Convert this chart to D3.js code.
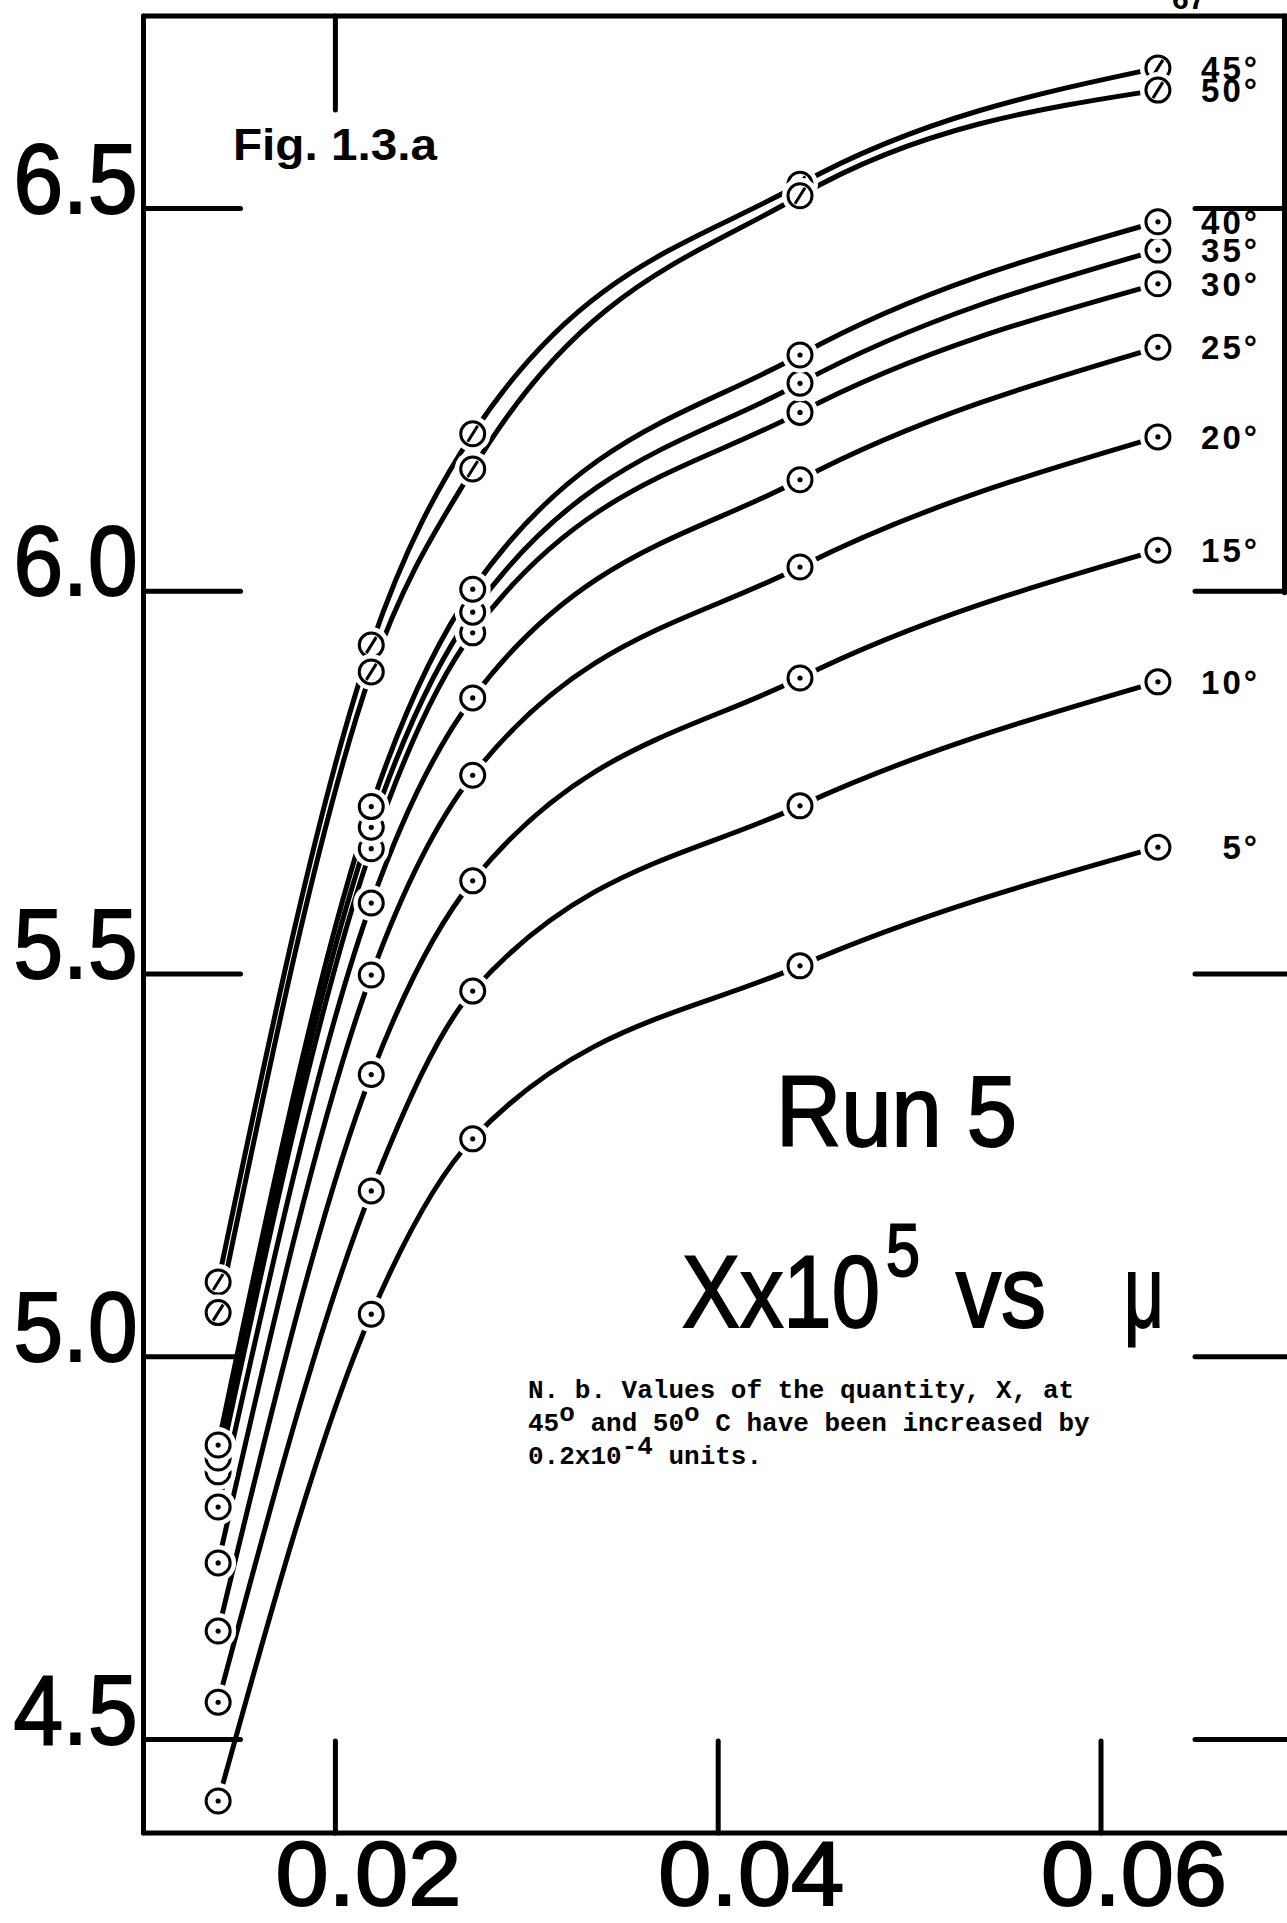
<!DOCTYPE html>
<html>
<head>
<meta charset="utf-8">
<script src="https://cdn.jsdelivr.net/npm/d3@7"></script>
<style>
html, body { margin: 0; padding: 0; background: #fff; }
svg { display: block; }
.letter { font-family: "Liberation Sans", Arial, sans-serif; fill: #000; }
.note { font-family: "Liberation Mono", "DejaVu Sans Mono", monospace; font-weight: bold; font-size: 26px; fill: #000; }
</style>
</head>
<body>
<div id="chart"></div>
<script>
// ionic strength (x axis)
const MU = [0.0139, 0.0219, 0.0272, 0.0443, 0.0630];

// X x 10^5 at each temperature
const T5  = [4.419, 5.055, 5.284, 5.510, 5.665];
const T10 = [4.548, 5.216, 5.477, 5.719, 5.881];
const T15 = [4.641, 5.368, 5.621, 5.886, 6.053];
const T20 = [4.730, 5.498, 5.759, 6.031, 6.201];
const T25 = [4.803, 5.592, 5.860, 6.145, 6.318];
const T30 = [4.849, 5.663, 5.945, 6.233, 6.401];
const T35 = [4.867, 5.691, 5.972, 6.271, 6.445];
const T40 = [4.884, 5.718, 6.002, 6.308, 6.482];
const T45 = [5.097, 5.929, 6.205, 6.531, 6.683];
const T50 = [5.057, 5.894, 6.159, 6.516, 6.654];

const TEMPS = ["5°", "10°", "15°", "20°", "25°", "30°", "35°", "40°", "45°", "50°"];
const VALUES = [T5, T10, T15, T20, T25, T30, T35, T40, T45, T50];
// 45 and 50 deg values were shifted (see note), drawn with slashed circles
const SHIFTED = ["45°", "50°"];

const X_TICKS = [0.02, 0.04, 0.06];
const X_TICK_LABELS = ["0.02", "0.04", "0.06"];
const Y_TICKS = [4.5, 5.0, 5.5, 6.0, 6.5];
const Y_TICK_LABELS = ["4.5", "5.0", "5.5", "6.0", "6.5"];

const width = 1287;
const height = 1923;
const frame = {top: 16, bottom: 1833, left: 143.5, right: 1284.5};

const svg = d3.select("#chart")
    .append("svg")
    .attr("width", width)
    .attr("height", height);

const xScale = d3.scaleLinear()
    .domain([0.01, 0.07])
    .range([frame.left, frame.left + 6 * 191.4]);

const yScale = d3.scaleLinear()
    .domain([4.5, 6.5])
    .range([1739, 208]);

// frame lines
const frameGroup = svg.append("g")
    .attr("stroke", "#000")
    .attr("stroke-width", 5)
    .attr("stroke-linecap", "round");
frameGroup.append("line")
    .attr("x1", frame.left).attr("y1", frame.top)
    .attr("x2", frame.left).attr("y2", frame.bottom);
frameGroup.append("line")
    .attr("x1", frame.left).attr("y1", frame.top)
    .attr("x2", width).attr("y2", frame.top);
frameGroup.append("line")
    .attr("x1", frame.left).attr("y1", frame.bottom)
    .attr("x2", width).attr("y2", frame.bottom);
frameGroup.append("line")
    .attr("x1", frame.right).attr("y1", frame.top)
    .attr("x2", frame.right).attr("y2", yScale(6.0) + 2);

function styleAxis(g) {
    g.select(".domain").remove();
    g.selectAll(".tick line")
        .attr("stroke", "#000")
        .attr("stroke-width", 5)
        .attr("stroke-linecap", "round");
}

// left axis: inward ticks, big labels
const yAxis = svg.append("g")
    .attr("transform", `translate(${frame.left}, 0)`)
    .call(d3.axisLeft(yScale)
        .tickValues(Y_TICKS)
        .tickSize(-97)
        .tickPadding(6)
        .tickFormat((d, i) => Y_TICK_LABELS[i]))
    .call(styleAxis);

yAxis.selectAll(".tick text")
    .attr("class", "letter")
    .attr("font-size", 98)
    .attr("stroke", "#000")
    .attr("stroke-width", 2)
    .attr("dy", 4)
    .attr("textLength", 124)
    .attr("lengthAdjust", "spacingAndGlyphs");

// right side ticks
svg.append("g")
    .attr("transform", `translate(${width}, 0)`)
    .call(d3.axisLeft(yScale)
        .tickValues(Y_TICKS)
        .tickSize(92)
        .tickFormat(""))
    .call(styleAxis);

// bottom axis: inward ticks, labels under the line
const xAxis = svg.append("g")
    .attr("transform", `translate(0, ${frame.bottom})`)
    .call(d3.axisBottom(xScale)
        .tickValues(X_TICKS)
        .tickSize(-92)
        .tickFormat((d, i) => X_TICK_LABELS[i]))
    .call(styleAxis);

xAxis.selectAll(".tick text")
    .attr("class", "letter")
    .attr("font-size", 90)
    .attr("stroke", "#000")
    .attr("stroke-width", 2)
    .attr("text-anchor", "start")
    .attr("x", -60)
    .attr("y", 72)
    .attr("dy", null)
    .attr("textLength", 186)
    .attr("lengthAdjust", "spacingAndGlyphs");

// top tick
svg.append("g")
    .attr("transform", `translate(0, ${frame.top})`)
    .call(d3.axisBottom(xScale)
        .tickValues([X_TICKS[0]])
        .tickSize(94)
        .tickFormat(""))
    .call(styleAxis);

// curves
const lineGenerator = d3.line()
    .x((d, i) => xScale(MU[i]))
    .y(d => yScale(d))
    .curve(d3.curveMonotoneX);

const lineGroup = svg.append("g")
    .attr("class", "line-group");

lineGroup.selectAll("path")
    .data(VALUES)
  .enter().append("path")
    .attr("d", lineGenerator)
    .attr("fill", "none")
    .attr("stroke", "#000")
    .attr("stroke-width", 5)
    .attr("stroke-linecap", "round");

// point markers
const points = [];
VALUES.forEach((vals, s) => {
    vals.forEach((v, i) => points.push({temp: TEMPS[s], mu: MU[i], value: v}));
});

const dotGroup = svg.append("g")
    .attr("class", "dot-group");

const marker = dotGroup.selectAll("g")
    .data(points)
  .enter().append("g")
    .attr("transform", d => `translate(${xScale(d.mu)}, ${yScale(d.value)})`);

marker.append("circle")
    .attr("r", 18)
    .attr("fill", "#fff");

marker.append("circle")
    .attr("r", 12)
    .attr("fill", "#fff")
    .attr("stroke", "#000")
    .attr("stroke-width", 3);

marker.filter(d => !SHIFTED.includes(d.temp))
    .append("circle")
    .attr("r", 2.6)
    .attr("fill", "#000");

marker.filter(d => SHIFTED.includes(d.temp))
    .append("line")
    .attr("x1", -5).attr("y1", 8)
    .attr("x2", 5).attr("y2", -8)
    .attr("stroke", "#000")
    .attr("stroke-width", 3);

// temperature labels at the right end of each curve
svg.append("g")
    .selectAll("text")
    .data(VALUES)
  .enter().append("text")
    .attr("class", "letter")
    .attr("font-size", 33)
    .attr("font-weight", "bold")
    .attr("letter-spacing", 3)
    .attr("text-anchor", "end")
    .attr("x", 1260)
    .attr("y", d => yScale(d[d.length - 1]) + 12)
    .text((d, i) => TEMPS[i]);

// figure title
svg.append("text")
    .attr("class", "letter")
    .attr("font-size", 44)
    .attr("font-weight", "bold")
    .attr("x", 233)
    .attr("y", 160)
    .attr("textLength", 204)
    .attr("lengthAdjust", "spacingAndGlyphs")
    .text("Fig. 1.3.a");

// page number cut off at top
svg.append("text")
    .attr("class", "letter")
    .attr("font-size", 30)
    .attr("font-weight", "bold")
    .attr("x", 1172)
    .attr("y", 9)
    .text("67");

// Run 5 heading
svg.append("text")
    .attr("class", "letter")
    .attr("font-size", 100)
    .attr("stroke", "#000")
    .attr("stroke-width", 2)
    .attr("x", 776)
    .attr("y", 1146)
    .attr("textLength", 241)
    .attr("lengthAdjust", "spacingAndGlyphs")
    .text("Run 5");

const heading = [
    {t: "Xx10", x: 682, y: 1327, size: 102, len: 198},
    {t: "5", x: 886, y: 1276, size: 74, len: 34},
    {t: "vs", x: 956, y: 1327, size: 102, len: 90},
    {t: "μ", x: 1124, y: 1327, size: 102, len: 40}
];
svg.append("g")
    .selectAll("text")
    .data(heading)
  .enter().append("text")
    .attr("class", "letter")
    .attr("font-size", d => d.size)
    .attr("stroke", "#000")
    .attr("stroke-width", 2)
    .attr("x", d => d.x)
    .attr("y", d => d.y)
    .attr("textLength", d => d.len)
    .attr("lengthAdjust", "spacingAndGlyphs")
    .text(d => d.t);

// typed note, three lines
const noteX = 528;
const note = svg.append("text")
    .attr("class", "note")
    .attr("x", noteX)
    .attr("y", 1398);

note.append("tspan")
    .attr("x", noteX)
    .text("N. b. Values of the quantity, X, at");

note.append("tspan").attr("x", noteX).attr("dy", 33).text("45");
note.append("tspan").attr("dy", -10).text("o");
note.append("tspan").attr("dy", 10).text(" and 50");
note.append("tspan").attr("dy", -10).text("o");
note.append("tspan").attr("dy", 10).text(" C have been increased by");

note.append("tspan").attr("x", noteX).attr("dy", 33).text("0.2x10");
note.append("tspan").attr("dy", -10).text("-4");
note.append("tspan").attr("dy", 10).text(" units.");
</script>
</body>
</html>
